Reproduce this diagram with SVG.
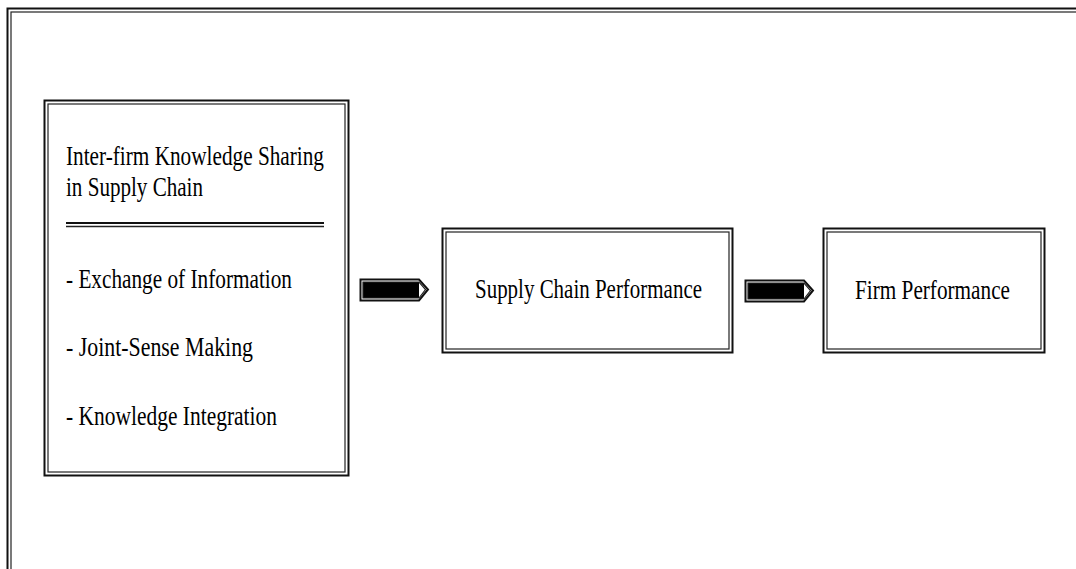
<svg xmlns="http://www.w3.org/2000/svg" width="1076" height="569" viewBox="0 0 1076 569">
<style>
.o{fill:none;stroke:#111;stroke-width:2}
.i{fill:none;stroke:#222;stroke-width:1.2}
.t{font-family:"Liberation Serif","Times New Roman",serif;font-size:28px;fill:#000}
</style>
<rect width="1076" height="569" fill="#fff"/>
<g id="frame">
<rect class="o" x="7.5" y="8.5" width="1100" height="600"/>
<rect class="i" x="11" y="12" width="1100" height="600"/>
</g>
<g id="node-sharing">
<rect class="o" x="44.5" y="100.5" width="304" height="375"/>
<rect class="i" x="48" y="104" width="297" height="368"/>
<text class="t" x="66" y="165" textLength="258" lengthAdjust="spacingAndGlyphs">Inter-firm Knowledge Sharing</text>
<text class="t" x="66" y="196" textLength="137" lengthAdjust="spacingAndGlyphs">in Supply Chain</text>
<line x1="66" y1="223" x2="324" y2="223" stroke="#111" stroke-width="2"/>
<line x1="66" y1="226.5" x2="324" y2="226.5" stroke="#222" stroke-width="1.3"/>
<text class="t" x="66" y="288" textLength="226" lengthAdjust="spacingAndGlyphs">- Exchange of Information</text>
<text class="t" x="66" y="356" textLength="187" lengthAdjust="spacingAndGlyphs">- Joint-Sense Making</text>
<text class="t" x="66" y="425" textLength="211" lengthAdjust="spacingAndGlyphs">- Knowledge Integration</text>
</g>
<g id="node-scp">
<rect class="o" x="442.5" y="228.5" width="290" height="124"/>
<rect class="i" x="446" y="232" width="283" height="117"/>
<text class="t" x="475" y="298" textLength="227" lengthAdjust="spacingAndGlyphs">Supply Chain Performance</text>
</g>
<g id="node-fp">
<rect class="o" x="823.5" y="228.5" width="221" height="124"/>
<rect class="i" x="827" y="232" width="214" height="117"/>
<text class="t" x="855" y="299" textLength="155" lengthAdjust="spacingAndGlyphs">Firm Performance</text>
</g>
<g id="connectors">
<path class="o" d="M360.5 279.5 H419 L428 289.5 L419 300.5 H360.5 Z"/>
<rect x="363" y="282" width="56" height="16" fill="#000"/>
<path class="i" d="M363 282 H419 L425.5 289.5 L419 298 H363 Z"/>
<path class="o" d="M745.5 280.5 H804 L813 290.5 L804 301.5 H745.5 Z"/>
<rect x="748" y="283" width="56" height="16" fill="#000"/>
<path class="i" d="M748 283 H804 L810.5 290.5 L804 299 H748 Z"/>
</g>
</svg>
